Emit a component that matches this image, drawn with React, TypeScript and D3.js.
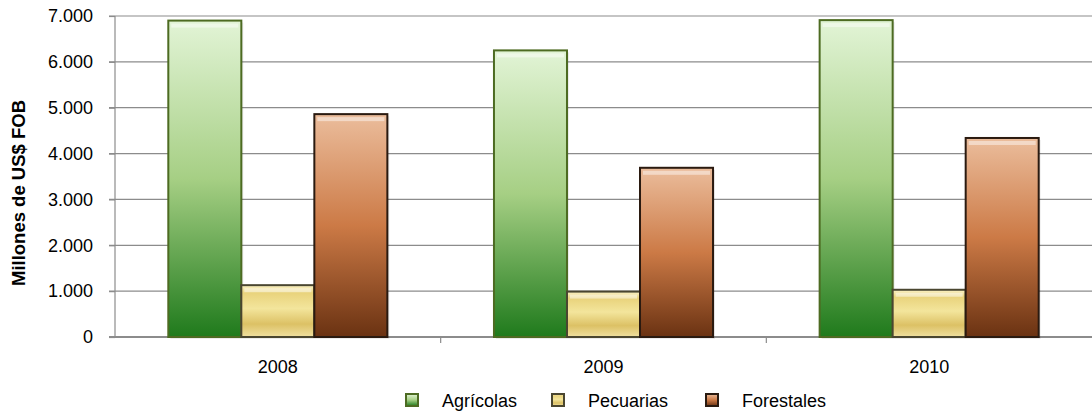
import React, { useEffect, useRef } from 'react';
import * as d3 from 'd3';

const years = ['2008', '2009', '2010'];
const seriesNames = ['Agrícolas', 'Pecuarias', 'Forestales'];
const agricolas = [6900, 6250, 6910];
const pecuarias = [1130, 990, 1030];
const forestales = [4860, 3690, 4340];
const yTicks = [0, 1000, 2000, 3000, 4000, 5000, 6000, 7000];

const styles = [
  { top: '#e2f4d6', mid: '#a6cf84', bottom: '#1f7a1c', stroke: '#4d6b22' },
  { top: '#f5e6a8', mid: '#e6d27e', bottom: '#d8bd5a', stroke: '#4a4630' },
  { top: '#ebbd9c', mid: '#cc7a46', bottom: '#6a3212', stroke: '#2a1a10' },
];

const FONT = 'Arial, "Liberation Sans", sans-serif';
const fmt = (v: number) => (v === 0 ? '0' : d3.format(',')(v).replace(/,/g, '.'));

export default function App() {
  const svgRef = useRef<SVGSVGElement>(null);

  useEffect(() => {
    if (!svgRef.current) return;
    const W = 1092, H = 417;
    const margin = { top: 16, right: 0, bottom: 80, left: 115 };
    const width = W - margin.left - margin.right;
    const height = H - margin.top - margin.bottom;

    const svg = d3.select(svgRef.current);
    svg.selectAll('*').remove();

    const defs = svg.append('defs');
    styles.forEach((s, i) => {
      const grad = defs.append('linearGradient')
        .attr('id', `g${i}`).attr('x1', 0).attr('y1', 0).attr('x2', 0).attr('y2', 1);
      if (i === 1) {
        grad.append('stop').attr('offset', '0%').attr('stop-color', '#fbf3c8');
        grad.append('stop').attr('offset', '15%').attr('stop-color', '#e9d37c');
        grad.append('stop').attr('offset', '45%').attr('stop-color', '#f3e59c');
        grad.append('stop').attr('offset', '75%').attr('stop-color', '#dcc165');
        grad.append('stop').attr('offset', '100%').attr('stop-color', '#f0e0a0');
      } else {
        grad.append('stop').attr('offset', '0%').attr('stop-color', s.top);
        grad.append('stop').attr('offset', '50%').attr('stop-color', s.mid);
        grad.append('stop').attr('offset', '100%').attr('stop-color', s.bottom);
      }
    });

    const g = svg.append('g').attr('transform', `translate(${margin.left},${margin.top})`);

    const x0 = d3.scaleBand().domain(years).range([0, width]).paddingInner(0).paddingOuter(0);
    const x1 = d3.scaleBand().domain(seriesNames).range([0, x0.bandwidth()]).paddingOuter(0.73).paddingInner(0);
    const y = d3.scaleLinear().domain([0, 7000]).range([height, 0]);

    // grid
    g.append('g').selectAll('line').data(yTicks.filter(t => t > 0)).enter().append('line')
      .attr('x1', -6).attr('x2', width).attr('y1', d => y(d)).attr('y2', d => y(d))
      .attr('stroke', '#8c8c8c').attr('stroke-width', 1.2);

    // y axis
    const ya = g.append('g').call(d3.axisLeft(y).tickValues(yTicks).tickSize(6).tickFormat(d => fmt(d as number)));
    ya.select('.domain').attr('stroke', '#8c8c8c').attr('stroke-width', 1.2).attr('d', `M0,${y(7000)}V${height}`);
    ya.selectAll('.tick line').attr('stroke', '#8c8c8c').attr('stroke-width', 1.2);
    ya.selectAll('.tick text').attr('font-family', FONT).attr('font-size', 18).attr('fill', '#000').attr('dx', -13);

    // x axis
    const xa = g.append('g').attr('transform', `translate(0,${height})`)
      .call(d3.axisBottom(x0).tickSize(0).tickPadding(23));
    xa.select('.domain').attr('stroke', '#8c8c8c').attr('stroke-width', 1.8).attr('d', `M-6,0H${width}`);
    xa.selectAll('.tick text').attr('font-family', FONT).attr('font-size', 18).attr('fill', '#000');
    g.append('g').selectAll('line').data(years.slice(1)).enter().append('line')
      .attr('x1', d => x0(d)!).attr('x2', d => x0(d)!)
      .attr('y1', height).attr('y2', height + 6)
      .attr('stroke', '#8c8c8c').attr('stroke-width', 1.2);

    const rows = [agricolas, pecuarias, forestales];
    const data = years.flatMap((yr, i) => seriesNames.map((s, j) => ({ yr, s, j, v: rows[j][i] })));

    // bar shadows
    g.append('g').selectAll('rect').data(data).enter().append('rect')
      .attr('x', d => x0(d.yr)! + x1(d.s)! + 2)
      .attr('y', d => y(d.v) + 2)
      .attr('width', x1.bandwidth())
      .attr('height', d => height - y(d.v))
      .attr('fill', '#000').attr('opacity', 0.08);

    const bars = g.append('g').selectAll('g').data(data).enter().append('g');
    bars.append('rect')
      .attr('x', d => x0(d.yr)! + x1(d.s)!)
      .attr('y', d => y(d.v))
      .attr('width', x1.bandwidth())
      .attr('height', d => height - y(d.v))
      .attr('fill', d => `url(#g${d.j})`)
      .attr('stroke', d => styles[d.j].stroke).attr('stroke-width', 2);
    // bevel highlight
    bars.append('rect')
      .attr('x', d => x0(d.yr)! + x1(d.s)! + 3)
      .attr('y', d => y(d.v) + 3)
      .attr('width', x1.bandwidth() - 6)
      .attr('height', 4)
      .attr('fill', '#fff').attr('opacity', 0.45);

    // legend
    const legX = [412, 558, 712];
    const leg = svg.append('g').attr('transform', 'translate(0,400)');
    seriesNames.forEach((s, j) => {
      const lg = leg.append('g').attr('transform', `translate(${legX[j]},0)`);
      lg.append('rect').attr('x', -6).attr('y', -6).attr('width', 12).attr('height', 12)
        .attr('fill', `url(#g${j})`).attr('stroke', styles[j].stroke).attr('stroke-width', 2);
      lg.append('text').attr('x', 30).attr('y', 6.5).text(s)
        .attr('font-family', FONT).attr('font-size', 18).attr('fill', '#000');
    });

    // y title
    svg.append('text')
      .attr('transform', `translate(25,193) rotate(-90)`)
      .attr('text-anchor', 'middle')
      .attr('font-family', FONT)
      .attr('font-size', 18.5).attr('font-weight', 'bold')
      .text('Millones de US$ FOB');
  }, []);

  return (
    <div style={{ position: 'absolute', left: 0, top: 0 }}>
      <svg ref={svgRef} width={1092} height={417} style={{ display: 'block', background: '#fff' }} />
    </div>
  );
}
